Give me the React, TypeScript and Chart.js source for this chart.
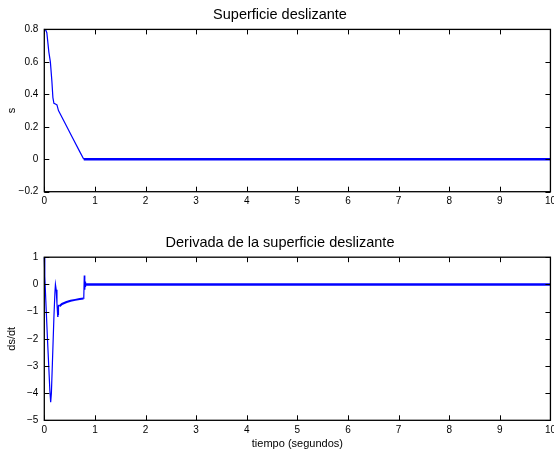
import React, { useEffect, useRef } from 'react';
import { Chart, registerables } from 'chart.js';

Chart.register(...registerables);

const FONT = "'Liberation Sans', Arial, Helvetica, sans-serif";
const BLUE = '#0000ff';

// ---------- shared x axis ----------
const xTickLabels = ['0', '1', '2', '3', '4', '5', '6', '7', '8', '9', '10'];
const xAxisLabel = 'tiempo (segundos)';

// ---------- top plot: s ----------
const sTitle = 'Superficie deslizante';
const sAxisLabel = 's';
const sYTickLabels = ['\u22120.2', '0', '0.2', '0.4', '0.6', '0.8'];
const sTransientTime = [0, 0.03, 0.05, 0.07, 0.09, 0.12, 0.15, 0.17, 0.19, 0.22, 0.25, 0.28, 0.4, 0.55, 0.7, 0.78];
const sTransientValues = [0.8, 0.795, 0.78, 0.72, 0.66, 0.6, 0.48, 0.38, 0.345, 0.34, 0.335, 0.3, 0.228, 0.137, 0.047, 0];
const sSlidingTime = [0.78, 10];
const sSlidingValues = [0, 0];

// ---------- bottom plot: ds/dt ----------
const dTitle = 'Derivada de la superficie deslizante';
const dAxisLabel = 'ds/dt';
const dYTickLabels = ['\u22125', '\u22124', '\u22123', '\u22122', '\u22121', '0', '1'];
const dReachTime = [0, 0.01, 0.03, 0.06, 0.09, 0.11, 0.126, 0.14, 0.16, 0.19, 0.21, 0.22, 0.235, 0.25, 0.265, 0.27, 0.275, 0.28, 0.3];
const dReachValues = [1, 0.3, -0.6, -1.9, -3.1, -3.9, -4.33, -4.0, -2.9, -1.2, -0.3, 0, -0.2, -0.7, -1.18, -0.8, -1.1, -0.78, -0.8];
const dChatterTime = [0.3, 0.35, 0.44, 0.52, 0.61, 0.7, 0.775];
const dChatterValues = [-0.8, -0.72, -0.65, -0.6, -0.57, -0.54, -0.52];
const dSpikeTime = [0.775, 0.78, 0.79, 0.8, 0.805, 0.81, 0.82];
const dSpikeValues = [-0.52, -0.5, 0.33, -0.2, 0.1, -0.1, 0];
const dSlidingTime = [0.82, 10];
const dSlidingValues = [0, 0];

const toPoints = (t: number[], v: number[]) => t.map((x, i) => ({ x, y: v[i] }));

const line = (t: number[], v: number[], width: number) => ({
  data: toPoints(t, v),
  borderColor: BLUE,
  borderWidth: width,
  pointRadius: 0,
  tension: 0,
  fill: false,
  clip: false as any,
});

const boxPlugin = {
  id: 'matlabBox',
  afterDraw(chart: any) {
    const { ctx, chartArea: a, scales } = chart;
    const len = 5;
    ctx.save();
    ctx.strokeStyle = '#000';
    ctx.lineWidth = 1;
    ctx.beginPath();
    scales.x.ticks.forEach((tk: any) => {
      const px = Math.round(scales.x.getPixelForValue(tk.value)) + 0.5;
      ctx.moveTo(px, a.bottom);
      ctx.lineTo(px, a.bottom - len);
      ctx.moveTo(px, a.top);
      ctx.lineTo(px, a.top + len);
    });
    scales.y.ticks.forEach((tk: any) => {
      const py = Math.round(scales.y.getPixelForValue(tk.value)) + 0.5;
      ctx.moveTo(a.left, py);
      ctx.lineTo(a.left + len, py);
      ctx.moveTo(a.right, py);
      ctx.lineTo(a.right - len, py);
    });
    ctx.stroke();
    ctx.lineWidth = 1.3;
    ctx.strokeRect(a.left, a.top, a.right - a.left, a.bottom - a.top);
    ctx.restore();
  },
};

type Cfg = {
  title: string;
  titlePad: { top: number; bottom: number };
  yLabel: string;
  yMin: number;
  yMax: number;
  yStep: number;
  yTicks: string[];
  xTitle: boolean;
  xHeight: number;
  datasets: any[];
};

function makeConfig(cfg: Cfg): any {
  return {
    type: 'line',
    data: { datasets: cfg.datasets },
    plugins: [boxPlugin],
    options: {
      responsive: false,
      animation: false,
      devicePixelRatio: 1,
      layout: { padding: { left: 0, right: 0, top: 0, bottom: 0 } },
      plugins: {
        legend: { display: false },
        tooltip: { enabled: false },
        title: {
          display: true,
          text: cfg.title,
          color: '#000',
          font: { family: FONT, size: 14.5, weight: 'normal' },
          padding: cfg.titlePad,
        },
      },
      scales: {
        x: {
          type: 'linear',
          min: 0,
          max: 10,
          grid: { display: false, drawTicks: false },
          border: { display: false },
          ticks: {
            stepSize: 1,
            color: '#000',
            font: { family: FONT, size: 10 },
            padding: 4,
            maxRotation: 0,
            autoSkip: false,
            callback: (_v: any, i: number) => xTickLabels[i],
          },
          title: {
            display: cfg.xTitle,
            text: xAxisLabel,
            color: '#000',
            font: { family: FONT, size: 11 },
            padding: { top: 2, bottom: 0 },
          },
          afterFit: (s: any) => {
            s.height = cfg.xHeight;
          },
        },
        y: {
          type: 'linear',
          min: cfg.yMin,
          max: cfg.yMax,
          grid: { display: false, drawTicks: false },
          border: { display: false },
          ticks: {
            stepSize: cfg.yStep,
            color: '#000',
            font: { family: FONT, size: 10 },
            padding: 6,
            autoSkip: false,
            callback: (_v: any, i: number) => cfg.yTicks[i],
          },
          title: {
            display: true,
            text: cfg.yLabel,
            color: '#000',
            font: { family: FONT, size: 11 },
            padding: { top: 5, bottom: 0 },
          },
          afterFit: (s: any) => {
            s.width = 44.3;
          },
        },
      },
    },
  };
}

function Plot({ cfg, top, height }: { cfg: Cfg; top: number; height: number }) {
  const ref = useRef<HTMLCanvasElement>(null);
  useEffect(() => {
    if (!ref.current) return;
    const chart = new Chart(ref.current, makeConfig(cfg));
    return () => chart.destroy();
  }, []);
  return (
    <canvas
      ref={ref}
      width={560}
      height={height}
      style={{ position: 'absolute', left: 0, top, width: 560, height, display: 'block' }}
    />
  );
}

export default function App() {
  const topCfg: Cfg = {
    title: sTitle,
    titlePad: { top: 6, bottom: 6 },
    yLabel: sAxisLabel,
    yMin: -0.2,
    yMax: 0.8,
    yStep: 0.2,
    yTicks: sYTickLabels,
    xTitle: false,
    xHeight: 33.3,
    datasets: [line(sTransientTime, sTransientValues, 1.2), line(sSlidingTime, sSlidingValues, 2.5)],
  };
  const bottomCfg: Cfg = {
    title: dTitle,
    titlePad: { top: 9, bottom: 5.8 },
    yLabel: dAxisLabel,
    yMin: -5,
    yMax: 1,
    yStep: 1,
    yTicks: dYTickLabels,
    xTitle: true,
    xHeight: 30.7,
    datasets: [
      line(dReachTime, dReachValues, 1.2),
      line(dChatterTime, dChatterValues, 2),
      line(dSpikeTime, dSpikeValues, 1.2),
      line(dSlidingTime, dSlidingValues, 2.5),
    ],
  };
  return (
    <div
      style={{
        position: 'absolute',
        left: 0,
        top: 0,
        width: 554,
        height: 451,
        overflow: 'hidden',
        background: '#fff',
      }}
    >
      <Plot cfg={topCfg} top={0} height={225} />
      <Plot cfg={bottomCfg} top={225} height={226} />
    </div>
  );
}
